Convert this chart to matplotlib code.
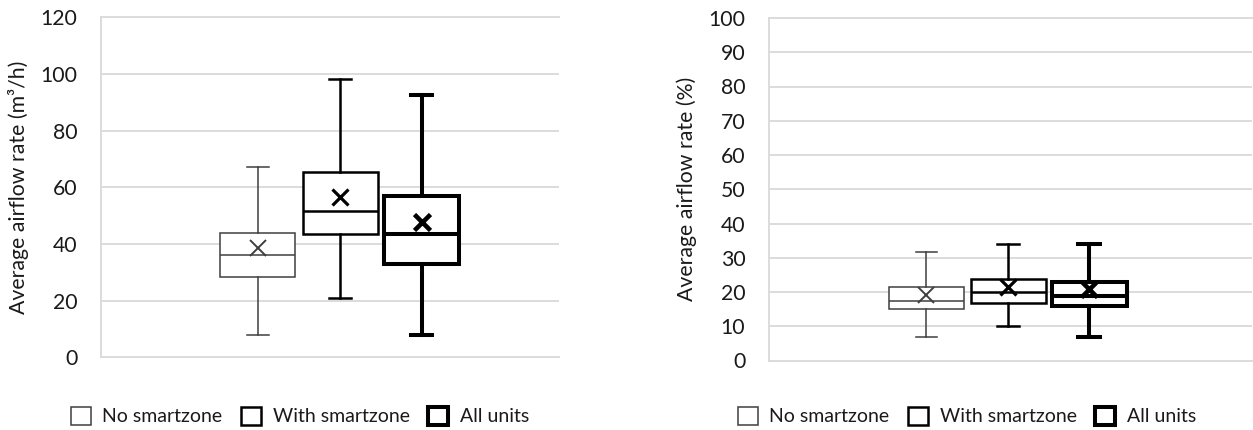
import matplotlib
matplotlib.use("Agg")
import matplotlib.pyplot as plt
from matplotlib.patches import Patch

plt.rcParams['font.family'] = ['Lato', 'DejaVu Sans']

# Series names
series = ["No smartzone", "With smartzone", "All units"]

# Airflow rate in m3/h: lower whisker, Q1, median, Q3, upper whisker, mean
flow_whislo = [8.0, 21.0, 8.0]
flow_q1 = [28.2, 43.6, 32.8]
flow_med = [36.0, 51.6, 43.6]
flow_q3 = [43.9, 65.3, 56.9]
flow_whishi = [67.3, 98.2, 92.7]
flow_mean = [38.5, 56.7, 47.9]

# Airflow rate in % of nominal
pct_whislo = [6.8, 10.0, 6.8]
pct_q1 = [14.9, 16.9, 15.9]
pct_med = [17.4, 20.0, 18.9]
pct_q3 = [21.6, 23.9, 23.0]
pct_whishi = [31.6, 34.0, 34.0]
pct_mean = [19.0, 21.5, 20.8]

flow_ticks = [0, 20, 40, 60, 80, 100, 120]
pct_ticks = [0, 10, 20, 30, 40, 50, 60, 70, 80, 90, 100]

# Per-series line styling: colour, line width, marker edge width
styles = [("#3f3f3f", 1.1, 1.4), ("black", 1.8, 2.3), ("black", 2.9, 3.3)]
GRID = "#d9d9d9"
TEXT = "#1a1a1a"
FS = 15.3
LEG_FS = 14

W, H = 1253, 430
fig = plt.figure(figsize=(W / 100, H / 100), dpi=100)


def make_axes(px_left, px_right, px_top, px_bottom):
    return fig.add_axes([px_left / W, 1 - px_bottom / H,
                         (px_right - px_left) / W, (px_bottom - px_top) / H])


def draw_panel(ax, whislo, q1, med, q3, whishi, mean, ticks, positions,
               box_w, ylabel):
    cap_w = box_w * 0.29
    for i in range(len(series)):
        color, lw, mew = styles[i]
        stats = [dict(whislo=whislo[i], q1=q1[i], med=med[i], q3=q3[i],
                      whishi=whishi[i], mean=mean[i], fliers=[])]
        ax.bxp(stats, positions=[positions[i]], widths=box_w,
               capwidths=cap_w, showmeans=True, patch_artist=True,
               boxprops=dict(facecolor="white", edgecolor=color, linewidth=lw),
               whiskerprops=dict(color=color, linewidth=lw),
               capprops=dict(color=color, linewidth=lw),
               medianprops=dict(color=color, linewidth=lw),
               meanprops=dict(marker="x", markersize=11, markeredgecolor=color,
                              markeredgewidth=mew, markerfacecolor="none"),
               manage_ticks=False, zorder=3)
    ax.set_xlim(0, 1)
    ax.set_ylim(ticks[0], ticks[-1])
    ax.set_yticks(ticks)
    ax.set_xticks([])
    for t in ticks[1:-1]:
        ax.axhline(t, color=GRID, linewidth=1.3, zorder=1)
    for side in ("left", "top", "bottom"):
        ax.spines[side].set_color(GRID)
        ax.spines[side].set_linewidth(1.3)
    ax.spines["right"].set_visible(False)
    ax.tick_params(axis="y", length=0, pad=17, labelsize=FS, labelcolor=TEXT)
    ax.set_ylabel(ylabel, fontsize=FS, color=TEXT)


ax1 = make_axes(101, 559, 17.3, 357.3)
draw_panel(ax1, flow_whislo, flow_q1, flow_med, flow_q3, flow_whishi, flow_mean,
           flow_ticks, [0.342, 0.522, 0.700], 75 / 458,
           "Average airflow rate (m³/h)")
ax1.yaxis.set_label_coords(-72 / 458, 0.5)

ax2 = make_axes(769, 1252, 18, 360.5)
draw_panel(ax2, pct_whislo, pct_q1, pct_med, pct_q3, pct_whishi, pct_mean,
           pct_ticks, [0.326, 0.495, 0.663], 75 / 483,
           "Average airflow rate (%)")
ax2.yaxis.set_label_coords(-72 / 483, 0.5)

handles = [Patch(facecolor="white", edgecolor=c, linewidth=lw)
           for c, lw, _ in styles]
for cx in (300, 967):
    fig.legend(handles, series, loc="center", bbox_to_anchor=(cx / W, 1 - 416 / H),
               ncol=3, frameon=False, fontsize=LEG_FS, handlelength=1.03,
               handleheight=1.03, handletextpad=0.6, columnspacing=0.95,
               labelcolor=TEXT)

fig.savefig("out.png", dpi=100)
